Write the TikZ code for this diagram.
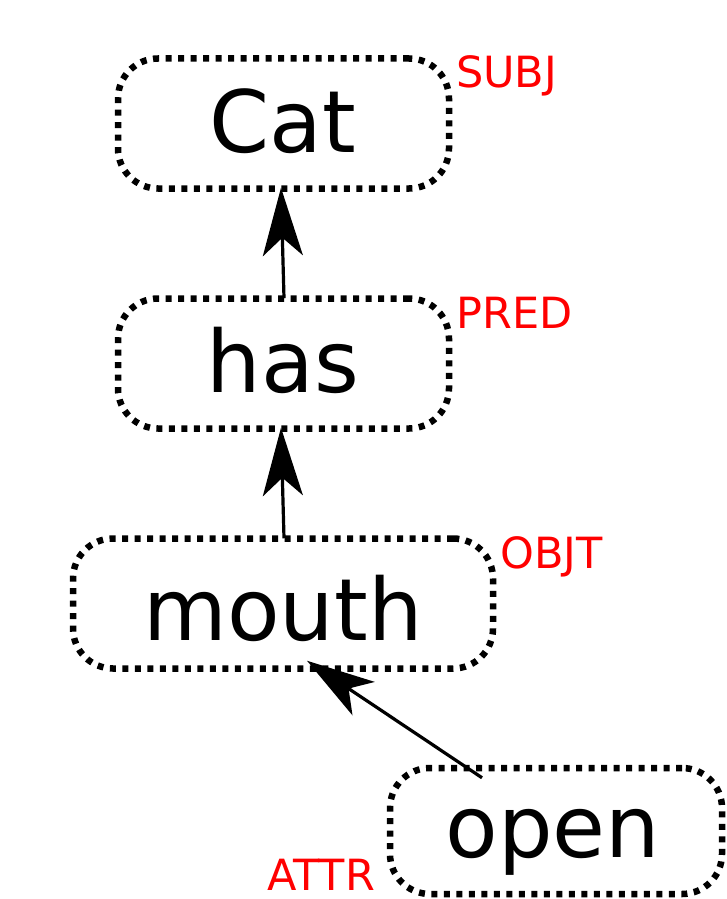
\documentclass[tikz,border=0pt]{standalone}
\usepackage{fontspec}
\setmainfont{DejaVu Sans}
\usetikzlibrary{arrows.meta,calc}
\begin{document}
\begin{tikzpicture}[x=1pt,y=-1pt,
  wordbox/.style={draw, line width=6.5pt, dash pattern=on 6pt off 6.5pt, rounded corners=40pt,
    inner sep=0pt, minimum height=130pt},
  word/.style={anchor=base, inner sep=0pt, font=\fontsize{86}{100}\selectfont},
  role/.style={anchor=base west, inner sep=0pt, text=red, font=\fontsize{43}{50}\selectfont},
  link/.style={line width=3.2pt, -{Stealth[length=68pt, width=40pt, inset=18pt]}}]
\useasboundingbox (0,0) rectangle (727,899);
\node[wordbox, minimum width=331pt] (cat) at (283.5,123.5) {};
\node[wordbox, minimum width=331pt] (has) at (283.5,363.5) {};
\node[wordbox, minimum width=420pt] (mouth) at (283,603.5) {};
\node[wordbox, minimum width=332pt, minimum height=126pt] (open) at (556,831) {};
\node[word] (catw) at (283,152) {Cat};
\node[word] (hasw) at (283,392) {has};
\node[word] (mouthw) at (283,640) {mouth};
\node[word] (openw) at (553,857) {open};
\node[role] (subj) at (456,87) {SUBJ};
\node[role] (pred) at (456,328) {PRED};
\node[role] (objt) at (500,568) {OBJT};
\node[role] (attr) at (267,890) {ATTR};
\draw[link] ($(has.north)+(0.5,3)$) -- ($(cat.south)+(-2.5,-4)$);
\draw[link] ($(mouth.north)+(1,3)$) -- ($(has.south)+(-2.5,-4)$);
\draw[link] ($(open.north)+(-74,13)$) -- ($(mouth.south)+(24,-11)$);
\end{tikzpicture}
\end{document}
